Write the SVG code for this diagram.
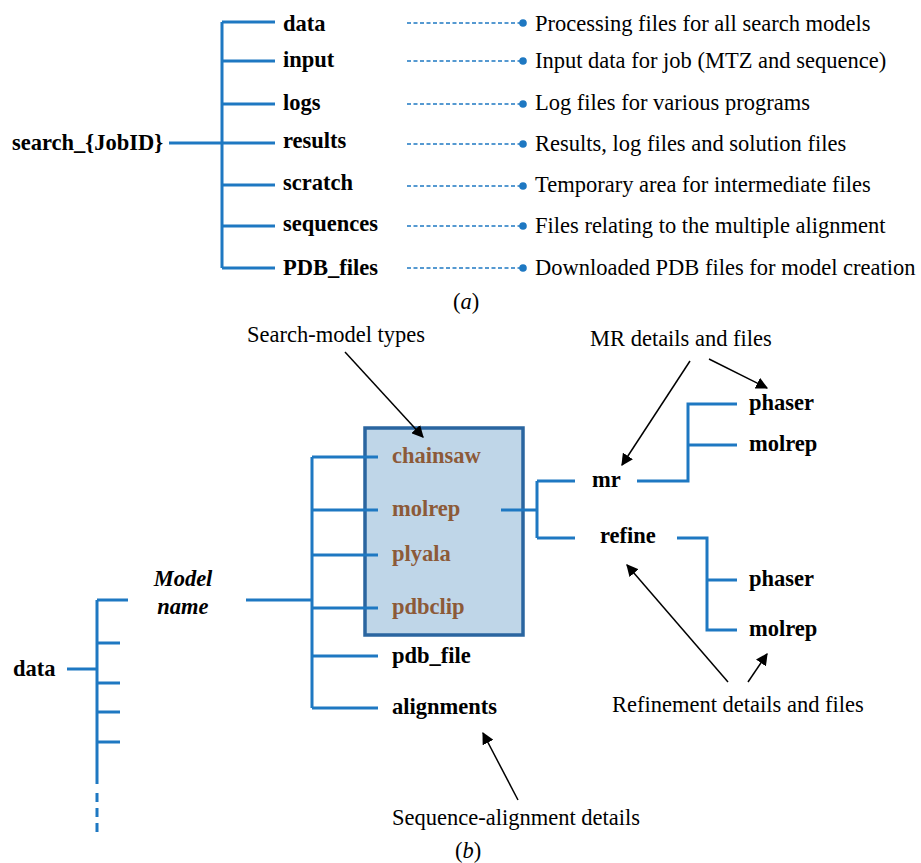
<svg xmlns="http://www.w3.org/2000/svg" width="921" height="863" viewBox="0 0 921 863">
<defs>
<marker id="ah" viewBox="0 0 10 10" refX="9" refY="5" markerWidth="12" markerHeight="12" markerUnits="userSpaceOnUse" orient="auto">
<path d="M0,0 L10,5 L0,10 z" fill="#000"/>
</marker>
<style>
text{font-family:"Liberation Serif","Times New Roman",serif;font-size:22.5px;fill:#000}
.b{font-weight:bold}
.br{font-weight:bold;fill:#8c5a38}
.it{font-style:italic}
.bi{font-weight:bold;font-style:italic}
.t{stroke:#1e78c2;stroke-width:3;fill:none}
.d{stroke:#1e78c2;stroke-width:1.6;fill:none;stroke-dasharray:4 2.5}
.dot{fill:#1e78c2}
.ar{stroke:#000;stroke-width:1.5;fill:none;marker-end:url(#ah)}
</style>
</defs>
<rect width="921" height="863" fill="#fff"/>

<g id="connectors">
<!-- (a) tree -->
<path class="t" d="M169,143 H222 M222,22 V268 M222,22 H275 M222,61 H275 M222,104 H275 M222,143 H275 M222,185 H275 M222,226 H275 M222,268 H275"/>
<path class="d" d="M407,23 H520 M407,61 H520 M407,104 H520 M407,144 H520 M407,186 H520 M407,226 H520 M407,268 H520"/>
<circle class="dot" cx="523" cy="23" r="3.8"/>
<circle class="dot" cx="523" cy="61" r="3.8"/>
<circle class="dot" cx="523" cy="104" r="3.8"/>
<circle class="dot" cx="523" cy="144" r="3.8"/>
<circle class="dot" cx="523" cy="186" r="3.8"/>
<circle class="dot" cx="523" cy="226" r="3.8"/>
<circle class="dot" cx="523" cy="268" r="3.8"/>
</g>

<g id="box">
<rect x="365" y="428" width="158" height="207" fill="#bfd6e8" stroke="#2a65a0" stroke-width="3.5"/>
</g>

<g id="connectors-b">
<!-- data tree -->
<path class="t" d="M67,669 H97 M97,600 V784 M97,600 H128 M97,643 H120 M97,683 H120 M97,712 H120 M97,742 H120"/>
<path d="M97,793 V833" stroke="#1e78c2" stroke-width="3" stroke-dasharray="9 6" fill="none"/>
<!-- model name tree -->
<path class="t" d="M246,600 H312 M312,457 V708 M312,457 H378 M312,510 H378 M312,555 H378 M312,608 H378 M312,656 H378 M312,708 H378"/>
<!-- molrep to mr/refine -->
<path class="t" d="M501,510 H537 M537,481 V538 M537,481 H575 M537,538 H575"/>
<!-- mr subtree -->
<path class="t" d="M637,481 H688 V404 H737 M688,445 H737"/>
<!-- refine subtree -->
<path class="t" d="M677,538 H707 V630 H737 M707,580 H737"/>
<!-- annotation arrows -->
<line class="ar" x1="345" y1="352" x2="423" y2="437"/>
<line class="ar" x1="690" y1="361" x2="622" y2="465"/>
<line class="ar" x1="709" y1="359" x2="767" y2="388"/>
<line class="ar" x1="728" y1="682" x2="627" y2="565"/>
<line class="ar" x1="748" y1="682" x2="767" y2="654"/>
<line class="ar" x1="518" y1="800" x2="483" y2="733"/>
</g>

<g id="node-search"><text class="b" x="12" y="150">search_{JobID}</text></g>
<g id="node-a-data"><text class="b" x="283" y="31">data</text></g>
<g id="node-a-input"><text class="b" x="283" y="67">input</text></g>
<g id="node-a-logs"><text class="b" x="283" y="110">logs</text></g>
<g id="node-a-results"><text class="b" x="283" y="148">results</text></g>
<g id="node-a-scratch"><text class="b" x="283" y="190">scratch</text></g>
<g id="node-a-sequences"><text class="b" x="283" y="231">sequences</text></g>
<g id="node-a-pdbfiles"><text class="b" x="283" y="275">PDB_files</text></g>

<g id="desc-data"><text x="535" y="31">Processing files for all search models</text></g>
<g id="desc-input"><text x="535" y="68">Input data for job (MTZ and sequence)</text></g>
<g id="desc-logs"><text x="535" y="110">Log files for various programs</text></g>
<g id="desc-results"><text x="535" y="151">Results, log files and solution files</text></g>
<g id="desc-scratch"><text x="535" y="192">Temporary area for intermediate files</text></g>
<g id="desc-sequences"><text x="535" y="233">Files relating to the multiple alignment</text></g>
<g id="desc-pdb"><text x="535" y="275">Downloaded PDB files for model creation</text></g>

<g id="label-a"><text x="453" y="309">(<tspan class="it">a</tspan>)</text></g>

<g id="note-search-model"><text x="247" y="342">Search-model types</text></g>
<g id="note-mr"><text x="590" y="346">MR details and files</text></g>
<g id="note-refine"><text x="612" y="712">Refinement details and files</text></g>
<g id="note-seq"><text x="392" y="825">Sequence-alignment details</text></g>

<g id="node-b-data"><text class="b" x="13" y="676">data</text></g>
<g id="node-model-name"><text class="bi" x="183" y="586" text-anchor="middle">Model</text><text class="bi" x="183" y="614" text-anchor="middle">name</text></g>
<g id="node-chainsaw"><text class="br" x="392" y="463">chainsaw</text></g>
<g id="node-molrep-type"><text class="br" x="392" y="516">molrep</text></g>
<g id="node-plyala"><text class="br" x="392" y="561">plyala</text></g>
<g id="node-pdbclip"><text class="br" x="392" y="614">pdbclip</text></g>
<g id="node-pdb-file"><text class="b" x="392" y="663">pdb_file</text></g>
<g id="node-alignments"><text class="b" x="392" y="714">alignments</text></g>
<g id="node-mr"><text class="b" x="592" y="487">mr</text></g>
<g id="node-refine"><text class="b" x="600" y="543">refine</text></g>
<g id="node-mr-phaser"><text class="b" x="749" y="410">phaser</text></g>
<g id="node-mr-molrep"><text class="b" x="749" y="451">molrep</text></g>
<g id="node-ref-phaser"><text class="b" x="749" y="586">phaser</text></g>
<g id="node-ref-molrep"><text class="b" x="749" y="636">molrep</text></g>

<g id="label-b"><text x="455" y="858">(<tspan class="it">b</tspan>)</text></g>
</svg>
